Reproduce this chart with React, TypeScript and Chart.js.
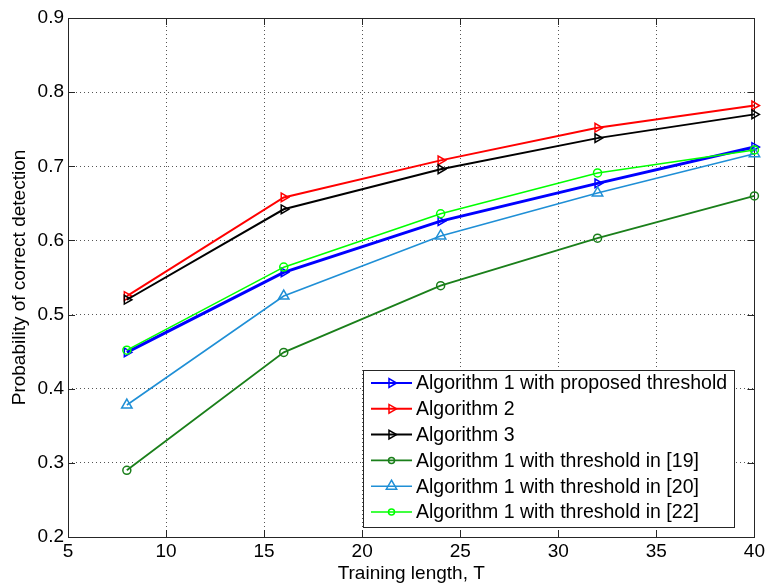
import React, { useEffect, useRef } from "react";
import { Chart, registerables } from "chart.js";

Chart.register(...registerables);

const xValues = [8, 16, 24, 32, 40];
const xTicks = [5, 10, 15, 20, 25, 30, 35, 40];
const yTicks = [0.2, 0.3, 0.4, 0.5, 0.6, 0.7, 0.8, 0.9];

const seriesLabels = [
  "Algorithm 1 with proposed threshold",
  "Algorithm 2",
  "Algorithm 3",
  "Algorithm 1 with threshold in [19]",
  "Algorithm 1 with threshold in [20]",
  "Algorithm 1 with threshold in [22]",
];

const proposed = [0.449, 0.557, 0.626, 0.677, 0.726];
const alg2 = [0.525, 0.658, 0.708, 0.752, 0.782];
const alg3 = [0.52, 0.642, 0.696, 0.738, 0.77];
const th19 = [0.29, 0.449, 0.539, 0.603, 0.66];
const th20 = [0.378, 0.525, 0.606, 0.664, 0.717];
const th22 = [0.452, 0.564, 0.636, 0.691, 0.722];

const FONT = '"Liberation Sans", Arial, Helvetica, sans-serif';

type Style = {
  color: string;
  width: number;
  marker: string;
  rot: number;
  r: number;
  legendR: number;
};

const styles: Style[] = [
  { color: "#0000ff", width: 3, marker: "triangle", rot: 90, r: 5, legendR: 5 },
  { color: "#ff0000", width: 2, marker: "triangle", rot: 90, r: 5, legendR: 5 },
  { color: "#000000", width: 2, marker: "triangle", rot: 90, r: 5, legendR: 5 },
  { color: "#1a7f1a", width: 1.8, marker: "circle", rot: 0, r: 4, legendR: 3 },
  { color: "#1f8fd6", width: 1.6, marker: "triangle", rot: 0, r: 6, legendR: 6 },
  { color: "#00ff00", width: 1.6, marker: "circle", rot: 0, r: 4, legendR: 3 },
];

const seriesValues = [proposed, alg2, alg3, th19, th20, th22];

function drawMarker(ctx: CanvasRenderingContext2D, style: string, rot: number, r: number, x: number, y: number) {
  ctx.beginPath();
  if (style === "circle") {
    ctx.arc(x, y, r, 0, Math.PI * 2);
  } else {
    const a0 = ((rot - 90) * Math.PI) / 180;
    for (let k = 0; k < 3; k++) {
      const a = a0 + (k * 2 * Math.PI) / 3;
      const px = x + Math.cos(a) * r;
      const py = y + Math.sin(a) * r;
      if (k === 0) ctx.moveTo(px, py);
      else ctx.lineTo(px, py);
    }
    ctx.closePath();
  }
  ctx.stroke();
}

const frameTicksPlugin = {
  id: "frameTicks",
  beforeDatasetsDraw(chart: any) {
    const { ctx, chartArea } = chart;
    const { left, right, top, bottom } = chartArea;
    const xs = chart.scales.x;
    const ys = chart.scales.y;
    ctx.save();
    ctx.strokeStyle = "#262626";
    ctx.lineWidth = 1;
    ctx.setLineDash([]);
    ctx.beginPath();
    const tl = 7;
    xTicks.forEach((v) => {
      const px = Math.round(xs.getPixelForValue(v)) + 0.5;
      ctx.moveTo(px, bottom);
      ctx.lineTo(px, bottom - tl);
      ctx.moveTo(px, top);
      ctx.lineTo(px, top + tl);
    });
    yTicks.forEach((v) => {
      const py = Math.round(ys.getPixelForValue(v)) + 0.5;
      ctx.moveTo(left, py);
      ctx.lineTo(left + tl, py);
      ctx.moveTo(right, py);
      ctx.lineTo(right - tl, py);
    });
    ctx.stroke();
    ctx.strokeRect(Math.round(left) + 0.5, Math.round(top) + 0.5, Math.round(right - left), Math.round(bottom - top));
    ctx.restore();
  },
};

const legendPlugin = {
  id: "boxLegend",
  afterDraw(chart: any) {
    const { ctx, chartArea } = chart;
    const ds = chart.data.datasets;
    ctx.save();
    ctx.font = `19.5px ${FONT}`;
    let maxW = 0;
    ds.forEach((d: any) => {
      maxW = Math.max(maxW, ctx.measureText(d.label).width);
    });
    const sampleLen = 41;
    const padL = 8;
    const gap = 4;
    const padR = 7;
    const rowH = 25.8;
    const w = Math.round(padL + sampleLen + gap + maxW + padR);
    const h = 157;
    const right = chartArea.right - 20;
    const bottom = chartArea.bottom - 10;
    const x0 = Math.round(right - w);
    const y0 = Math.round(bottom - h);
    ctx.fillStyle = "#ffffff";
    ctx.fillRect(x0, y0, w, h);
    ctx.strokeStyle = "#262626";
    ctx.lineWidth = 1;
    ctx.strokeRect(x0 + 0.5, y0 + 0.5, w, h);
    ds.forEach((d: any, i: number) => {
      const st = styles[i];
      const cy = y0 + 13 + i * rowH;
      const sx = x0 + padL;
      ctx.strokeStyle = d.borderColor;
      ctx.lineWidth = Math.min(d.borderWidth, 2);
      ctx.beginPath();
      ctx.moveTo(sx, cy);
      ctx.lineTo(sx + sampleLen, cy);
      ctx.stroke();
      ctx.lineWidth = 1.5;
      drawMarker(ctx, st.marker, st.rot, st.legendR, sx + sampleLen / 2, cy);
      ctx.fillStyle = "#000000";
      ctx.textBaseline = "middle";
      ctx.textAlign = "left";
      ctx.fillText(d.label, sx + sampleLen + gap, cy + 1);
    });
    ctx.restore();
  },
};

export default function App() {
  const ref = useRef<HTMLCanvasElement | null>(null);
  useEffect(() => {
    if (!ref.current) return;
    const datasets = seriesValues.map((vals, i) => {
      const st = styles[i];
      return {
        label: seriesLabels[i],
        data: vals.map((v, j) => ({ x: xValues[j], y: v })),
        borderColor: st.color,
        borderWidth: st.width,
        pointStyle: st.marker,
        pointRotation: st.rot,
        pointRadius: st.r,
        pointBorderWidth: 1.5,
        pointBorderColor: st.color,
        pointBackgroundColor: "rgba(0,0,0,0)",
        fill: false,
        tension: 0,
        clip: false,
        order: seriesValues.length - i,
      };
    });
    const chart = new Chart(ref.current, {
      type: "line",
      data: { datasets },
      options: {
        animation: false,
        responsive: false,
        devicePixelRatio: 1,
        layout: { padding: { top: 18, right: 11, left: 0, bottom: 0 } },
        plugins: {
          legend: { display: false },
          tooltip: { enabled: false },
        },
        scales: {
          x: {
            type: "linear",
            min: 5,
            max: 40,
            afterBuildTicks: (s: any) => {
              s.ticks = xTicks.map((v) => ({ value: v }));
            },
            afterFit: (s: any) => {
              s.height = 51;
            },
            ticks: {
              padding: 3,
              color: "#000",
              font: { family: FONT, size: 19 },
              callback: (v: any) => String(v),
              maxRotation: 0,
              autoSkip: false,
            },
            grid: {
              drawTicks: false,
              color: "#555",
              lineWidth: 1,
            },
            border: { display: false, dash: [1, 3] },
            title: {
              display: true,
              text: "Training length, T",
              color: "#000",
              font: { family: FONT, size: 19 },
              padding: 3,
            },
          },
          y: {
            type: "linear",
            min: 0.2,
            max: 0.9,
            afterBuildTicks: (s: any) => {
              s.ticks = yTicks.map((v) => ({ value: v }));
            },
            afterFit: (s: any) => {
              s.width = 68;
            },
            ticks: {
              padding: 4,
              color: "#000",
              font: { family: FONT, size: 19 },
              callback: (v: any) => Number(v).toFixed(1),
              autoSkip: false,
            },
            grid: {
              drawTicks: false,
              color: "#555",
              lineWidth: 1,
            },
            border: { display: false, dash: [1, 3] },
            title: {
              display: true,
              text: "Probability of correct detection",
              color: "#000",
              font: { family: FONT, size: 19 },
              padding: 8,
            },
          },
        },
      } as any,
      plugins: [frameTicksPlugin, legendPlugin],
    });
    return () => chart.destroy();
  }, []);
  return (
    <div style={{ position: "absolute", left: 0, top: 0, width: 768, height: 588, background: "#fff" }}>
      <canvas ref={ref} width={768} height={588} style={{ display: "block" }} />
    </div>
  );
}
